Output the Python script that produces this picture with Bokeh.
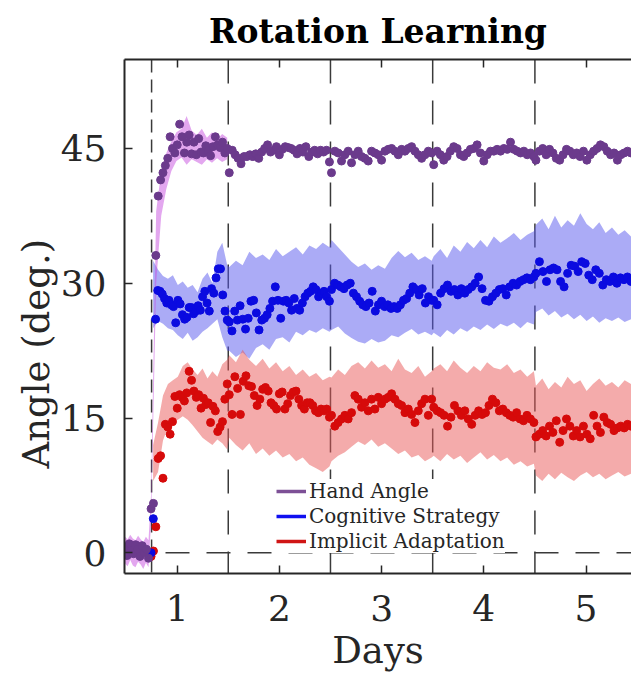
import numpy as np
from bokeh.plotting import figure
from bokeh.models import (Span, Legend, LegendItem, Title, LinearAxis, FixedTicker,
                          CustomJSTickFormatter, Range1d)
from bokeh.embed import file_html
from bokeh.resources import INLINE

FONT = "DejaVu Serif"

# ---------------- data ----------------
day_ticks = [1, 2, 3, 4, 5]
angle_ticks = [0, 15, 30, 45]
day_boundaries = [1.5, 2.5, 3.5, 4.5]
rotation_onset = 0.75

baseline_start, baseline_end = 0.49, 0.72
block_start = [0.745, 1.51, 2.51, 3.51, 4.51]
block_end = [1.49, 2.49, 3.49, 4.49, 5.44]

hand_baseline = [0.6, -0.3, 1.0, 0.2, -0.1, 0.9, 0.4, -0.4, 0.8, 0.0, 0.4, -0.6]
hand_blocks = [
    [4.9, 5.5, 33.1, 39.7, 41.5, 42.3, 43.1, 43.9, 46.3, 45.0, 44.5, 45.4, 47.7, 46.3, 44.5,
     45.7, 46.5, 44.4, 45.7, 44.3, 46.1, 44.6, 44.5, 45.3, 44.7, 44.2, 45.2, 46.3, 45.4, 45.1,
     45.7, 44.5, 45.0],
    [42.3, 44.8, 44.3, 43.9, 43.3, 44.1, 44.1, 44.3, 44.1, 44.4, 43.9, 44.6, 45.0, 45.4, 44.6,
     44.8, 45.2, 44.3, 44.9, 45.2, 45.1, 45.0, 44.8, 44.4, 45.0, 44.6, 45.2, 44.1, 44.6, 44.8,
     44.4, 44.8, 44.6, 44.8, 43.5],
    [42.3, 44.7, 44.5, 43.6, 44.3, 44.7, 43.4, 44.3, 44.7, 44.1, 43.9, 43.6, 44.7, 44.5, 44.3,
     43.7, 44.7, 44.9, 45.0, 44.7, 44.3, 44.9, 44.7, 45.0, 45.2, 44.7, 44.3, 43.9, 44.3, 44.7,
     44.5],
    [43.2, 44.7, 44.3, 43.7, 44.1, 44.7, 45.2, 45.0, 44.3, 44.1, 44.5, 44.9, 45.0, 45.4, 44.5,
     43.6, 44.3, 44.7, 44.7, 44.9, 44.7, 45.0, 44.9, 45.7, 44.9, 44.7, 44.5, 44.7, 44.3, 44.5,
     44.1],
    [43.7, 44.7, 45.0, 44.3, 44.9, 44.5, 43.9, 43.7, 44.3, 44.9, 44.7, 44.3, 44.5, 44.1, 44.7,
     43.7, 44.3, 44.7, 45.0, 45.4, 45.2, 44.7, 44.3, 44.5, 43.7, 44.3, 44.5, 44.7, 44.5],
]
strategy_blocks = [
    [0.0, 3.8, 26.0, 29.2, 29.1, 28.8, 28.3, 27.8, 28.1, 27.6, 27.4, 25.6, 28.1, 27.7, 26.5,
     26.0, 26.2, 27.3, 27.3, 26.6, 26.9, 27.5, 27.0, 28.5, 29.1, 27.8, 26.9, 29.4, 28.9, 30.6,
     31.6, 31.6, 28.7, 26.9, 25.9],
    [25.7, 24.7, 26.9, 25.9, 27.5, 26.0, 24.9, 26.1, 28.0, 28.1, 26.7, 24.8, 25.9, 26.1, 26.5,
     27.2, 28.0, 29.6, 28.1, 26.1, 28.0, 28.1, 27.8, 27.0, 28.3, 27.2, 27.0, 27.8, 28.5, 28.9,
     29.1, 29.6, 29.3, 28.5, 28.9, 29.1, 28.5, 28.0],
    [29.3, 30.0, 29.8, 29.6, 29.4, 29.8, 30.0, 28.9, 28.5, 28.0, 27.6, 27.4, 27.8, 29.1, 26.9,
     27.6, 28.0, 27.4, 27.6, 27.2, 27.4, 27.2, 27.6, 28.1, 28.3, 28.9, 29.6, 29.3, 28.7, 29.4,
     27.8, 28.5, 28.1],
    [28.1, 27.6, 28.9, 29.4, 29.8, 29.1, 29.3, 28.7, 29.4, 28.9, 29.3, 29.6, 30.0, 30.7, 29.4,
     28.1, 28.0, 28.5, 28.9, 29.3, 29.4, 28.7, 29.6, 30.0, 29.8, 30.2, 30.4, 30.6, 30.4, 30.7],
    [31.1, 32.4, 31.3, 30.2, 31.5, 31.7, 31.5, 30.2, 29.6, 31.1, 32.0, 31.9, 31.3, 32.4, 32.2,
     30.9, 30.4, 31.5, 31.1, 29.8, 30.4, 30.2, 30.7, 30.0, 30.6, 30.4, 30.7, 30.2],
]
implicit_blocks = [
    [-0.4, 0.2, 2.9, 10.5, 10.8, 8.3, 14.3, 14.0, 13.2, 14.6, 17.4, 16.1, 17.6, 17.3, 16.9,
     17.8, 20.2, 19.2, 18.0, 17.3, 17.6, 16.1, 17.2, 16.5, 16.7, 14.5, 16.3, 15.8, 13.5, 14.0,
     14.6, 17.1, 18.8],
    [17.6, 15.4, 19.6, 18.3, 15.4, 19.1, 19.7, 18.6, 18.5, 17.5, 16.4, 17.1, 18.2, 18.4, 18.0,
     16.7, 16.4, 16.0, 17.7, 17.9, 16.0, 16.6, 17.5, 17.9, 18.0, 17.1, 16.4, 16.0, 16.7, 16.7,
     16.4, 15.8, 15.6, 16.0, 15.8, 16.0, 15.1],
    [15.3, 14.1, 14.5, 14.9, 15.3, 14.9, 15.6, 17.5, 17.1, 16.2, 16.7, 15.8, 17.1, 16.0, 17.3,
     16.6, 17.1, 17.3, 17.7, 17.1, 16.6, 16.4, 15.6, 16.0, 15.4, 14.5, 15.8, 16.6, 17.1, 15.3,
     17.1],
    [16.2, 15.8, 15.6, 15.3, 14.1, 15.1, 16.4, 15.8, 15.3, 15.8, 14.9, 14.3, 15.3, 15.8, 15.4,
     15.6, 16.4, 17.1, 16.7, 15.8, 16.0, 15.6, 15.3, 15.1, 15.6, 14.9, 14.7, 15.3, 14.9, 14.5],
    [12.9, 13.2, 13.6, 13.0, 14.1, 13.4, 14.7, 12.3, 13.6, 14.9, 14.1, 13.0, 13.6, 12.9, 14.1,
     13.2, 12.7, 15.3, 14.1, 13.4, 15.1, 14.5, 14.3, 13.6, 13.9, 14.1, 13.9, 14.3, 14.1],
]

# shaded error bands (upper / lower edges)
band_start = [0.765, 1.51, 2.51, 3.51, 4.51]
hand_band_base_hi = [1.8, 1.5, 2.0, 1.6, 1.4, 1.9, 1.5, 1.2, 1.8, 1.4]
hand_band_base_lo = [-1.2, -1.5, -0.8, -1.4, -1.6, -1.0, -1.3, -1.8, -1.1, -1.6]
hand_band_d1_hi = [6.5, 38.0, 42.5, 44.5, 45.8, 46.8, 47.2, 48.6, 47.0, 46.5, 47.2, 46.2,
                   46.8, 46.0, 46.6, 46.2]
hand_band_d1_lo = [3.5, 30.0, 37.5, 40.5, 42.5, 43.6, 44.0, 43.2, 43.8, 43.5, 43.2, 43.8,
                   43.4, 43.9, 43.5, 43.8]
strategy_hi = [
    [32.5, 31.5, 30.8, 30.5, 30.9, 29.8, 30.2, 29.5, 29.8, 29.0, 30.5, 31.2, 30.0, 33.5, 34.5, 32.0],
    [31.8, 32.5, 32.0, 33.5, 32.8, 33.2, 32.6, 33.8, 33.0, 33.5, 34.0, 33.2, 34.2, 33.8, 34.5, 34.0],
    [34.8, 34.0, 33.2, 32.4, 31.8, 32.2, 31.5, 32.0, 31.6, 32.8, 33.6, 32.9, 33.4, 32.6, 33.0, 32.5],
    [33.0, 33.8, 32.8, 34.2, 33.5, 34.6, 33.9, 34.8, 34.0, 35.2, 34.5, 35.0, 35.6, 34.8, 35.4, 35.8],
    [36.5, 37.2, 36.0, 37.5, 36.2, 37.0, 36.4, 37.8, 36.6, 36.0, 36.8, 35.6, 36.2, 35.4, 35.9, 35.2],
]
strategy_lo = [
    [25.0, 25.8, 25.5, 25.0, 24.8, 24.2, 23.8, 24.5, 23.6, 24.0, 24.6, 25.0, 25.5, 26.0, 24.0, 22.5],
    [22.5, 21.8, 22.3, 21.6, 22.8, 23.2, 22.6, 23.8, 24.0, 23.4, 24.6, 24.2, 24.8, 24.5, 25.0, 24.6],
    [24.8, 25.2, 24.4, 23.9, 23.5, 23.3, 23.8, 23.4, 23.6, 24.2, 24.0, 24.5, 24.9, 24.3, 24.6, 24.2],
    [24.5, 24.0, 24.8, 24.3, 25.0, 24.6, 25.2, 24.8, 25.4, 24.9, 25.5, 25.2, 25.6, 25.0, 25.7, 25.4],
    [26.8, 27.2, 26.4, 26.9, 26.2, 26.6, 26.0, 26.5, 25.8, 26.3, 25.6, 26.1, 25.8, 26.2, 25.7, 26.0],
]
implicit_hi = [
    [12.0, 14.5, 17.5, 18.8, 19.2, 19.6, 20.8, 21.2, 20.4, 19.8, 20.5, 19.4, 20.2, 19.6, 21.0, 21.5],
    [22.0, 21.2, 22.6, 21.5, 20.8, 21.6, 20.5, 21.2, 20.2, 20.8, 19.8, 20.4, 19.6, 20.0, 19.2, 19.6],
    [19.5, 20.4, 19.8, 20.8, 21.2, 20.5, 21.4, 20.6, 21.0, 20.2, 21.6, 20.4, 20.0, 20.8, 19.6, 20.2],
    [20.5, 21.0, 20.2, 21.4, 20.6, 20.0, 20.8, 20.2, 21.2, 20.6, 20.4, 21.0, 20.0, 20.4, 19.6, 20.2],
    [18.6, 19.4, 18.2, 19.0, 18.4, 19.6, 18.8, 19.2, 18.0, 18.8, 19.4, 18.6, 19.0, 18.4, 19.2, 18.8],
]
implicit_lo = [
    [8.0, 9.0, 12.5, 14.0, 14.6, 14.8, 15.2, 14.8, 14.2, 13.5, 12.8, 12.4, 12.0, 12.6, 12.2, 11.5],
    [12.8, 12.0, 11.4, 12.2, 11.0, 11.6, 10.8, 11.4, 10.6, 11.0, 10.2, 10.6, 9.8, 9.4, 9.0, 9.6],
    [10.2, 10.8, 11.2, 11.8, 12.4, 12.0, 12.6, 11.8, 12.2, 11.6, 11.0, 11.4, 10.6, 10.9, 10.2, 10.6],
    [10.8, 10.2, 11.0, 10.4, 10.8, 10.0, 10.6, 11.2, 10.4, 10.9, 10.2, 10.6, 9.8, 10.2, 9.6, 9.9],
    [8.6, 8.0, 8.8, 8.2, 8.9, 8.4, 8.0, 8.6, 9.0, 8.4, 8.8, 8.2, 8.6, 9.0, 8.5, 8.8],
]

labels = ["Hand Angle", "Cognitive Strategy", "Implicit Adaptation"]

# ---------------- styles ----------------
HAND_DOT, STRAT_DOT, IMPL_DOT = "#6b3a8c", "#0a0ae0", "#d60a0a"
HAND_LEG, STRAT_LEG, IMPL_LEG = "#7d5096", "#1010f0", "#d01515"
HAND_BAND, STRAT_BAND, IMPL_BAND = "#c74fe0", "#5858ee", "#ea5858"
AX = "#262626"
DOT = 8


def block_series(blocks, starts, ends):
    xs, ys = [], []
    for vals, a, b in zip(blocks, starts, ends):
        xs.append(np.linspace(a, b, len(vals)))
        ys.append(np.asarray(vals, dtype=float))
    return np.concatenate(xs), np.concatenate(ys)


p = figure(width=631, height=676, output_backend="svg", toolbar_location=None,
           x_range=Range1d(0.485, 5.445), y_range=Range1d(-2.3, 54.9),
           min_border_left=124, min_border_right=0, min_border_top=57, min_border_bottom=103)
p.background_fill_color = "white"
p.border_fill_color = "white"
p.outline_line_color = None
p.grid.visible = False

# bands
for hi, lo, col in [(strategy_hi, strategy_lo, STRAT_BAND), (implicit_hi, implicit_lo, IMPL_BAND)]:
    bx, bhi = block_series(hi, band_start, block_end)
    _, blo = block_series(lo, band_start, block_end)
    p.varea(x=bx, y1=blo, y2=bhi, fill_color=col, fill_alpha=0.5)

hx_b, hhi_b = block_series([hand_band_base_hi], [baseline_start], [baseline_end])
_, hlo_b = block_series([hand_band_base_lo], [baseline_start], [baseline_end])
hx_1, hhi_1 = block_series([hand_band_d1_hi], [block_start[0]], [block_end[0]])
_, hlo_1 = block_series([hand_band_d1_lo], [block_start[0]], [block_end[0]])
p.varea(x=np.concatenate([hx_b, hx_1]), y1=np.concatenate([hlo_b, hlo_1]),
        y2=np.concatenate([hhi_b, hhi_1]), fill_color=HAND_BAND, fill_alpha=0.5)

# dashed reference lines
p.add_layout(Span(location=rotation_onset, dimension="height", line_color="#3a3a3a",
                  line_width=1.5, line_dash="13 7", level="underlay"))
for d in day_boundaries:
    p.add_layout(Span(location=d, dimension="height", line_color="#3a3a3a",
                      line_width=1.5, line_dash="24 17", level="underlay"))
p.add_layout(Span(location=0, dimension="width", line_color="#3a3a3a",
                  line_width=1.5, line_dash="24 17", level="underlay"))

# dots
ix, iy = block_series(implicit_blocks, block_start, block_end)
p.scatter(ix, iy, size=DOT, fill_color=IMPL_DOT, line_color=IMPL_DOT)
sx, sy = block_series(strategy_blocks, block_start, block_end)
p.scatter(sx, sy, size=DOT, fill_color=STRAT_DOT, line_color=STRAT_DOT)
hx, hy = block_series([hand_baseline] + hand_blocks,
                      [baseline_start] + block_start, [baseline_end] + block_end)
p.scatter(hx, hy, size=DOT, fill_color=HAND_DOT, line_color=HAND_DOT)

# legend proxies (a single NaN point each, so only the legend swatch shows)
l1 = p.line(x=[np.nan], y=[np.nan], line_color=HAND_LEG, line_width=3.5)
l2 = p.line(x=[np.nan], y=[np.nan], line_color=STRAT_LEG, line_width=3.5)
l3 = p.line(x=[np.nan], y=[np.nan], line_color=IMPL_LEG, line_width=3.5)
legend = Legend(items=[LegendItem(label=labels[0], renderers=[l1]),
                       LegendItem(label=labels[1], renderers=[l2]),
                       LegendItem(label=labels[2], renderers=[l3])],
                location=(152, 20), glyph_width=30, glyph_height=20, label_height=20,
                label_width=10, spacing=1, padding=3, margin=0, label_standoff=3,
                background_fill_color="white", background_fill_alpha=1.0,
                border_line_color=None, label_text_font=FONT, label_text_font_size="20px",
                label_text_color=AX)
p.add_layout(legend, "center")

# axes
for ax in (p.xaxis[0], p.yaxis[0]):
    ax.axis_line_color = AX
    ax.axis_line_width = 2
    ax.major_tick_line_color = AX
    ax.major_tick_line_width = 1.5
    ax.major_tick_in = 8
    ax.major_tick_out = 0
    ax.minor_tick_line_color = None
    ax.major_label_text_font = FONT
    ax.major_label_text_font_size = "36px"
    ax.major_label_text_color = AX
p.xaxis[0].ticker = FixedTicker(ticks=day_ticks)
p.yaxis[0].ticker = FixedTicker(ticks=angle_ticks)
p.xaxis[0].major_label_standoff = 21
p.yaxis[0].major_label_standoff = 18
p.xaxis[0].axis_label = "Days"
p.xaxis[0].axis_label_text_font = FONT
p.xaxis[0].axis_label_text_font_size = "37px"
p.xaxis[0].axis_label_text_font_style = "normal"
p.xaxis[0].axis_label_text_color = AX
p.xaxis[0].axis_label_standoff = 5

top = LinearAxis(ticker=FixedTicker(ticks=day_ticks),
                 formatter=CustomJSTickFormatter(code="return ''"),
                 axis_line_color=AX, axis_line_width=2, major_tick_line_color=AX,
                 major_tick_line_width=1.5, major_tick_in=8, major_tick_out=0,
                 minor_tick_line_color=None, major_label_standoff=0,
                 major_label_text_font_size="0px")
p.add_layout(top, "above")

ylab = Title(text="Angle (deg.)", align="left", offset=105, text_font=FONT,
             text_font_size="37px", text_font_style="normal", text_color=AX, standoff=0)
p.add_layout(ylab, "left")

p.title.text = "Rotation Learning"
p.title.align = "center"
p.title.text_font = FONT
p.title.text_font_size = "33px"
p.title.text_font_style = "bold"
p.title.text_color = "black"
p.title.standoff = 18

open("out.html", "w").write(file_html(p, INLINE))
